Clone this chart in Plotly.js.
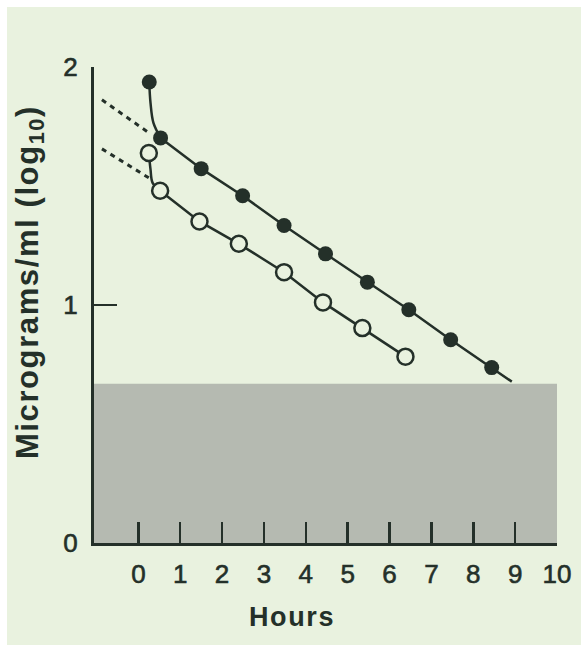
<!DOCTYPE html>
<html>
<head>
<meta charset="utf-8">
<script src="https://cdn.plot.ly/plotly-3.0.1.min.js"></script>
<style>
  html, body { margin: 0; padding: 0; background: #ffffff; }
  #chart { position: absolute; left: 7px; top: 7px; width: 574px; height: 638px; }
  /* slightly heavier tick numerals */
  #chart .xtick text, #chart .ytick text { stroke: #243029; stroke-width: 0.6px; }
  #chart .annotation-text { letter-spacing: 1.6px; }
</style>
</head>
<body>
<div id="chart"></div>
<script>
// Serum concentration (log10 micrograms/ml) against time after dosing.
// Filled circles: higher-dose course; open circles: lower-dose course.
const filledHours = [0.26, 0.53, 1.5, 2.49, 3.48, 4.47, 5.47, 6.46, 7.46, 8.44];
const filledLog   = [1.937, 1.702, 1.573, 1.459, 1.334, 1.215, 1.096, 0.98, 0.854, 0.737];

const openHours = [0.25, 0.52, 1.46, 2.4, 3.48, 4.41, 5.35, 6.38];
const openLog   = [1.639, 1.48, 1.351, 1.257, 1.138, 1.011, 0.903, 0.783];

// Early distribution phase (curved segment between the first two samples)
const filledEarlyHours = [0.26, 0.29, 0.36, 0.53];
const filledEarlyLog   = [1.937, 1.849, 1.765, 1.702];
const openEarlyHours   = [0.25, 0.29, 0.34, 0.52];
const openEarlyLog     = [1.639, 1.57, 1.513, 1.48];

// Elimination line continues past the last filled sample
const filledTailHours = [8.92];
const filledTailLog   = [0.678];

// Back-extrapolation of each elimination line to the axis (dashed)
const filledBackHours = [-0.87, 0.24];
const filledBackLog   = [1.862, 1.725];
const openBackHours   = [-0.87, 0.28];
const openBackLog     = [1.656, 1.531];

// Shaded band along the bottom of the chart
const shadedTop = 0.669;

const xTicks = [0, 1, 2, 3, 4, 5, 6, 7, 8, 9, 10];
const yTicks = [0, 1, 2];

const ink = '#243029';
const bg = '#e9f2df';
const band = '#b5bab1';
const font = 'Liberation Sans, Arial, Helvetica, sans-serif';

const traces = [
  { x: filledBackHours, y: filledBackLog, mode: 'lines',
    line: { color: ink, width: 3, dash: '5px,5px' }, hoverinfo: 'skip' },
  { x: openBackHours, y: openBackLog, mode: 'lines',
    line: { color: ink, width: 3, dash: '5px,5px' }, hoverinfo: 'skip' },
  { x: filledEarlyHours, y: filledEarlyLog, mode: 'lines',
    line: { color: ink, width: 2.5, shape: 'spline', smoothing: 1 } },
  { x: openEarlyHours, y: openEarlyLog, mode: 'lines',
    line: { color: ink, width: 2.5, shape: 'spline', smoothing: 1 } },
  { x: filledHours.slice(1).concat(filledTailHours),
    y: filledLog.slice(1).concat(filledTailLog), mode: 'lines',
    line: { color: ink, width: 2.5 } },
  { x: openHours.slice(1), y: openLog.slice(1), mode: 'lines',
    line: { color: ink, width: 2.5 } },
  { x: filledHours, y: filledLog, mode: 'markers',
    marker: { symbol: 'circle', size: 15, color: ink, line: { width: 0 } } },
  { x: openHours, y: openLog, mode: 'markers',
    marker: { symbol: 'circle', size: 16, color: bg, line: { color: ink, width: 2.5 } } }
];

const layout = {
  width: 574, height: 638,
  paper_bgcolor: bg, plot_bgcolor: bg,
  showlegend: false,
  margin: { l: 87, r: 24, t: 60, b: 102 },
  font: { family: font, color: ink },
  xaxis: {
    range: [-1.06, 10], tickvals: xTicks, ticktext: xTicks.map(String),
    ticks: 'inside', ticklen: 21, tickwidth: 2.5, tickcolor: ink,
    showline: true, linecolor: ink, linewidth: 3,
    showgrid: false, zeroline: false,
    tickfont: { family: font, size: 26, color: ink },
    ticklabelstandoff: 6
  },
  yaxis: {
    range: [0, 2], tickvals: yTicks, ticktext: yTicks.map(String),
    ticks: 'inside', ticklen: 23, tickwidth: 2.5, tickcolor: ink,
    showline: true, linecolor: ink, linewidth: 3,
    showgrid: false, zeroline: false,
    tickfont: { family: font, size: 26, color: ink },
    ticklabelstandoff: 8
  },
  shapes: [
    { type: 'rect', layer: 'below', xref: 'paper', yref: 'y',
      x0: 0, x1: 1, y0: 0, y1: shadedTop,
      fillcolor: band, line: { width: 0 } }
  ],
  annotations: [
    { text: '<b>Micrograms/ml (log<sub>10</sub>)</b>', textangle: -90,
      xref: 'paper', yref: 'paper', x: -0.138, y: 0.548,
      xanchor: 'center', yanchor: 'middle', showarrow: false,
      font: { family: font, size: 31, color: ink } },
    { text: '<b>Hours</b>',
      xref: 'paper', yref: 'paper', x: 0.428, y: -0.155,
      xanchor: 'center', yanchor: 'middle', showarrow: false,
      font: { family: font, size: 27, color: ink } }
  ]
};

Plotly.newPlot('chart', traces, layout, { staticPlot: true, displayModeBar: false });
</script>
</body>
</html>
